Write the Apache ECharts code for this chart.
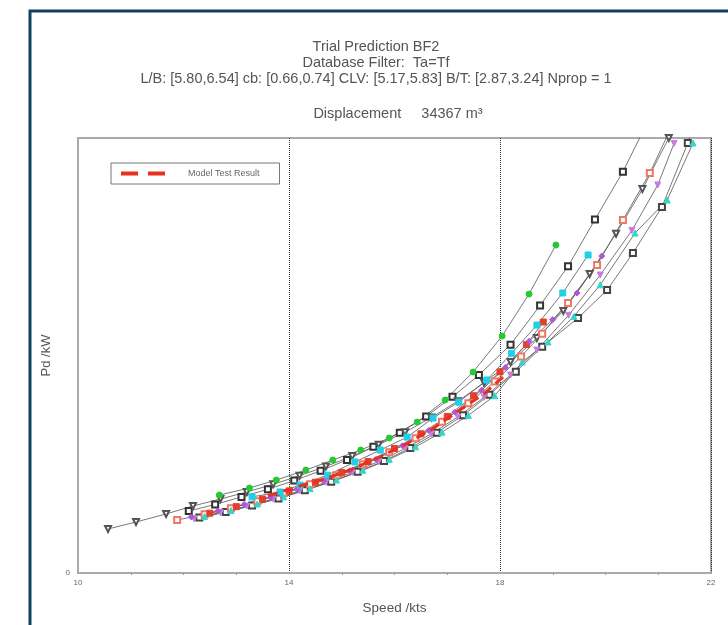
<!DOCTYPE html>
<html>
<head>
<meta charset="utf-8">
<script src="https://cdn.jsdelivr.net/npm/echarts@6/dist/echarts.min.js"></script>
<style>
  html, body { margin: 0; padding: 0; background: #fff; }
  #chart { width: 728px; height: 625px; }
</style>
</head>
<body>
<div id="chart"></div>
<script>
// speed (kts), delivered power (kW)
const greenCircle = [[12.68,7170],[13.25,7820],[13.76,8550],[14.32,9470],[14.83,10390],[15.36,11310],[15.9,12410],[16.43,13880],[16.96,15910],[17.49,18480],[18.04,21790],[18.55,25650],[19.06,30160]]
const blackSquare = [[12.1,5700],[12.6,6300],[13.1,7000],[13.6,7700],[14.1,8500],[14.6,9400],[15.1,10400],[15.6,11600],[16.1,12900],[16.6,14400],[17.1,16200],[17.6,18200],[18.2,21000],[18.76,24600],[19.29,28200],[19.8,32500],[20.33,36900],[20.75,41000]]
const grayTriangle = [[10.57,4050],[11.1,4690],[11.67,5430],[12.18,6160],[12.7,6800],[13.2,7450],[13.7,8150],[14.2,8950],[14.7,9800],[15.2,10750],[15.7,11800],[16.2,12950],[16.7,14300],[17.2,15800],[17.7,17500],[18.2,19400],[18.7,21600],[19.2,24100],[19.7,27500],[20.2,31200],[20.7,35300],[21.2,40000]]
const cyanSquare = [[13.3,7000],[13.83,7450],[14.21,8090],[14.73,9000],[15.25,10210],[15.73,11300],[16.24,12500],[16.73,14250],[17.22,15720],[17.75,17750],[18.22,20200],[18.7,22800],[19.19,25750],[19.67,29240]]
const cyanTriangle = [[12.4,5200],[12.9,5750],[13.4,6350],[13.9,7000],[14.4,7750],[14.9,8550],[15.4,9450],[15.9,10450],[16.4,11600],[16.9,12950],[17.4,14500],[17.9,16300],[18.42,19400],[18.91,21240],[19.4,23600],[19.9,26500],[20.56,31260],[21.17,34300],[21.66,39540]]
const magentaDiamond = [[12.15,5150],[12.65,5700],[13.15,6300],[13.65,6950],[14.15,7700],[14.65,8500],[15.15,9400],[15.65,10450],[16.15,11700],[16.65,13100],[17.15,14800],[17.65,16800],[18.1,18900],[18.55,21300],[19.0,23300],[19.46,25750],[19.93,29150]]
const salmonSquare = [[11.88,4870],[12.4,5400],[12.9,5950],[13.4,6600],[13.9,7350],[14.4,8150],[14.9,9000],[15.4,10000],[15.9,11100],[16.4,12400],[16.9,13900],[17.4,15600],[17.9,17600],[18.4,19900],[18.8,22000],[19.29,24830],[19.84,28320],[20.33,32460],[20.84,36780],[21.2,40500]]
const violetTriangle = [[12.2,5000],[12.7,5550],[13.2,6150],[13.7,6800],[14.2,7550],[14.7,8350],[15.2,9250],[15.7,10250],[16.2,11450],[16.7,12800],[17.2,14350],[17.7,16150],[18.2,18200],[18.7,20500],[19.3,23700],[19.9,27400],[20.5,31500],[20.99,35680],[21.3,39500]]
const graySquare = [[12.3,5100],[12.8,5600],[13.3,6200],[13.8,6850],[14.3,7600],[14.8,8400],[15.3,9300],[15.8,10300],[16.3,11500],[16.8,12900],[17.3,14500],[17.8,16400],[18.3,18500],[18.8,20800],[19.48,23450],[20.03,26020],[20.52,29420],[21.07,33650],[21.56,39540],[21.7,41500]]
const redSquare = [[12.5,5500],[13.0,6100],[13.5,6800],[14.0,7550],[14.5,8350],[15.0,9250],[15.5,10250],[16.0,11450],[16.5,12800],[17.0,14400],[17.5,16300],[18.0,18500],[18.5,21000],[18.82,23080]]
const modelTest = [[13.6,7100],[14.2,8000],[14.7,8700],[15.16,9470],[15.67,10570],[16.2,11800],[16.7,13200],[17.24,14990],[17.7,16500],[18.1,18200]]

const titleLines = [
  'Trial Prediction BF2',
  'Database Filter:  Ta=Tf',
  'L/B: [5.80,6.54] cb: [0.66,0.74] CLV: [5.17,5.83] B/T: [2.87,3.24] Nprop = 1'
]
const displacementText = 'Displacement     34367 m\u00b3'

const shipSeries = [
  { data: blackSquare, symbol: 'emptyRect', color: '#333' },
  { data: grayTriangle, symbol: 'emptyTriangle', color: '#555', rotate: 180 },
  { data: graySquare, symbol: 'emptyRect', color: '#444' },
  { data: salmonSquare, symbol: 'emptyRect', color: '#ee7766' },
  { data: violetTriangle, symbol: 'triangle', color: '#c77ddb', rotate: 180 },
  { data: cyanTriangle, symbol: 'triangle', color: '#33d6c8' },
  { data: redSquare, symbol: 'rect', color: '#e2402c' },
  { data: magentaDiamond, symbol: 'diamond', color: '#b455d6' },
  { data: cyanSquare, symbol: 'rect', color: '#1fd0e6' },
  { data: greenCircle, symbol: 'circle', color: '#26c934' }
]

const chart = echarts.init(document.getElementById('chart'))

const font = '"Liberation Sans", Arial, sans-serif'

const series = shipSeries.map((s, i) => ({
  name: 'ship' + i,
  type: 'line',
  data: s.data,
  symbol: s.symbol,
  symbolSize: 6,
  symbolRotate: s.rotate || 0,
  showAllSymbol: true,
  lineStyle: { color: '#555', width: 0.8 },
  itemStyle: { color: s.color, borderColor: s.color, borderWidth: 1 },
  emphasis: { disabled: true },
  animation: false,
  z: 2
}))

series.push({
  name: 'Model Test Result',
  type: 'line',
  data: modelTest,
  showSymbol: false,
  symbol: 'none',
  lineStyle: { color: '#e8301c', width: 3, type: [10, 6] },
  itemStyle: { color: '#e8301c' },
  animation: false,
  z: 3
})

chart.setOption({
  backgroundColor: '#fff',
  animation: false,
  textStyle: { fontFamily: font },
  title: [
    {
      text: titleLines.join('\n'),
      left: 371, top: 34, textAlign: 'center',
      textStyle: { fontSize: 14.5, fontWeight: 'normal', color: '#555', lineHeight: 16, fontFamily: font }
    },
    {
      text: displacementText,
      left: 393, top: 101, textAlign: 'center',
      textStyle: { fontSize: 14.5, fontWeight: 'normal', color: '#555', fontFamily: font }
    }
  ],
  legend: {
    data: [{ name: 'Model Test Result', icon: 'path://M0,0H17V4H0ZM27,0H44V4H27Z' }],
    left: 111, top: 163,
    padding: [6, 20, 6, 10],
    itemWidth: 44, itemHeight: 4,
    borderColor: '#777', borderWidth: 1,
    itemStyle: { color: '#e8301c' },
    textStyle: { fontSize: 9, color: '#666', padding: [0, 0, 0, 18] },
    selectedMode: false
  },
  grid: {
    left: 78, right: 17, top: 138, bottom: 52,
    show: true, borderColor: '#aaa', borderWidth: 2, backgroundColor: '#fff'
  },
  xAxis: {
    type: 'value',
    min: 10, max: 22, interval: 4,
    name: 'Speed /kts',
    nameLocation: 'middle', nameGap: 28,
    nameTextStyle: { fontSize: 13.5, color: '#555' },
    axisLine: { show: true, lineStyle: { color: '#aaa', width: 2 } },
    axisTick: { show: false },
    minorTick: { show: true, splitNumber: 4, length: 2, lineStyle: { color: '#999' } },
    axisLabel: { fontSize: 8, color: '#666', margin: 6 },
    splitLine: { show: true, lineStyle: { color: '#333', type: 'dotted', width: 1 } }
  },
  yAxis: {
    type: 'value',
    min: 0, max: 40000, interval: 40000,
    name: 'Pd /kW',
    nameLocation: 'middle', nameGap: 25,
    nameTextStyle: { fontSize: 13, color: '#555' },
    axisLine: { show: true, lineStyle: { color: '#aaa', width: 2 } },
    axisTick: { show: false },
    axisLabel: { fontSize: 8, color: '#666', margin: 8, formatter: (v) => (v === 0 ? '0' : '') },
    splitLine: { show: false }
  },
  graphic: [
    {
      type: 'rect',
      shape: { x: 30, y: 11, width: 760, height: 700 },
      style: { fill: 'none', stroke: '#0d4263', lineWidth: 3 },
      silent: true,
      z: 100
    }
  ],
  series
})
</script>
</body>
</html>
